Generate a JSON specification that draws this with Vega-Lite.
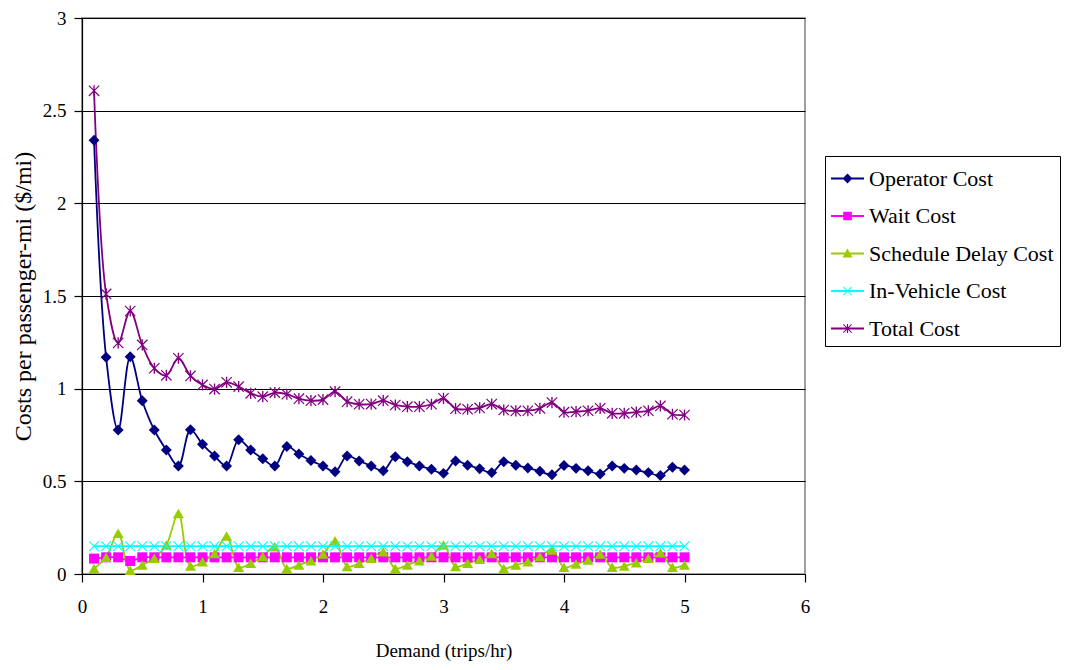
{
  "$schema": "https://vega.github.io/schema/vega-lite/v6.json",
  "width": 723,
  "height": 556,
  "autosize": "none",
  "padding": {"left": 82, "top": 18, "right": 267, "bottom": 96},
  "background": "white",
  "config": {
    "font": "Liberation Serif",
    "view": {"stroke": "#808080", "strokeWidth": 1.5}
  },
  "data": {
    "values": [
      {"d": 0.1, "Operator Cost": 2.34, "Wait Cost": 0.083, "Schedule Delay Cost": 0.03, "In-Vehicle Cost": 0.15, "Total Cost": 2.607},
      {"d": 0.2, "Operator Cost": 1.17, "Wait Cost": 0.09, "Schedule Delay Cost": 0.09, "In-Vehicle Cost": 0.15, "Total Cost": 1.511},
      {"d": 0.3, "Operator Cost": 0.777, "Wait Cost": 0.09, "Schedule Delay Cost": 0.22, "In-Vehicle Cost": 0.15, "Total Cost": 1.247},
      {"d": 0.4, "Operator Cost": 1.172, "Wait Cost": 0.07, "Schedule Delay Cost": 0.02, "In-Vehicle Cost": 0.15, "Total Cost": 1.419},
      {"d": 0.5, "Operator Cost": 0.935, "Wait Cost": 0.09, "Schedule Delay Cost": 0.049, "In-Vehicle Cost": 0.15, "Total Cost": 1.236},
      {"d": 0.6, "Operator Cost": 0.777, "Wait Cost": 0.09, "Schedule Delay Cost": 0.085, "In-Vehicle Cost": 0.15, "Total Cost": 1.11},
      {"d": 0.7, "Operator Cost": 0.669, "Wait Cost": 0.09, "Schedule Delay Cost": 0.156, "In-Vehicle Cost": 0.15, "Total Cost": 1.072},
      {"d": 0.8, "Operator Cost": 0.583, "Wait Cost": 0.09, "Schedule Delay Cost": 0.327, "In-Vehicle Cost": 0.15, "Total Cost": 1.164},
      {"d": 0.9, "Operator Cost": 0.778, "Wait Cost": 0.09, "Schedule Delay Cost": 0.043, "In-Vehicle Cost": 0.15, "Total Cost": 1.069},
      {"d": 1.0, "Operator Cost": 0.70, "Wait Cost": 0.09, "Schedule Delay Cost": 0.066, "In-Vehicle Cost": 0.15, "Total Cost": 1.02},
      {"d": 1.1, "Operator Cost": 0.637, "Wait Cost": 0.09, "Schedule Delay Cost": 0.11, "In-Vehicle Cost": 0.15, "Total Cost": 0.998},
      {"d": 1.2, "Operator Cost": 0.583, "Wait Cost": 0.09, "Schedule Delay Cost": 0.205, "In-Vehicle Cost": 0.15, "Total Cost": 1.034},
      {"d": 1.3, "Operator Cost": 0.724, "Wait Cost": 0.09, "Schedule Delay Cost": 0.036, "In-Vehicle Cost": 0.15, "Total Cost": 1.011},
      {"d": 1.4, "Operator Cost": 0.669, "Wait Cost": 0.09, "Schedule Delay Cost": 0.058, "In-Vehicle Cost": 0.15, "Total Cost": 0.975},
      {"d": 1.5, "Operator Cost": 0.622, "Wait Cost": 0.09, "Schedule Delay Cost": 0.094, "In-Vehicle Cost": 0.15, "Total Cost": 0.957},
      {"d": 1.6, "Operator Cost": 0.583, "Wait Cost": 0.09, "Schedule Delay Cost": 0.147, "In-Vehicle Cost": 0.15, "Total Cost": 0.979},
      {"d": 1.7, "Operator Cost": 0.688, "Wait Cost": 0.09, "Schedule Delay Cost": 0.03, "In-Vehicle Cost": 0.15, "Total Cost": 0.97},
      {"d": 1.8, "Operator Cost": 0.648, "Wait Cost": 0.09, "Schedule Delay Cost": 0.049, "In-Vehicle Cost": 0.15, "Total Cost": 0.946},
      {"d": 1.9, "Operator Cost": 0.612, "Wait Cost": 0.09, "Schedule Delay Cost": 0.072, "In-Vehicle Cost": 0.15, "Total Cost": 0.935},
      {"d": 2.0, "Operator Cost": 0.583, "Wait Cost": 0.09, "Schedule Delay Cost": 0.108, "In-Vehicle Cost": 0.15, "Total Cost": 0.941},
      {"d": 2.1, "Operator Cost": 0.552, "Wait Cost": 0.09, "Schedule Delay Cost": 0.18, "In-Vehicle Cost": 0.15, "Total Cost": 0.984},
      {"d": 2.2, "Operator Cost": 0.637, "Wait Cost": 0.09, "Schedule Delay Cost": 0.04, "In-Vehicle Cost": 0.15, "Total Cost": 0.93},
      {"d": 2.3, "Operator Cost": 0.61, "Wait Cost": 0.09, "Schedule Delay Cost": 0.058, "In-Vehicle Cost": 0.15, "Total Cost": 0.916},
      {"d": 2.4, "Operator Cost": 0.583, "Wait Cost": 0.09, "Schedule Delay Cost": 0.085, "In-Vehicle Cost": 0.15, "Total Cost": 0.917},
      {"d": 2.5, "Operator Cost": 0.557, "Wait Cost": 0.09, "Schedule Delay Cost": 0.12, "In-Vehicle Cost": 0.15, "Total Cost": 0.935},
      {"d": 2.6, "Operator Cost": 0.633, "Wait Cost": 0.09, "Schedule Delay Cost": 0.03, "In-Vehicle Cost": 0.15, "Total Cost": 0.912},
      {"d": 2.7, "Operator Cost": 0.606, "Wait Cost": 0.09, "Schedule Delay Cost": 0.049, "In-Vehicle Cost": 0.15, "Total Cost": 0.903},
      {"d": 2.8, "Operator Cost": 0.583, "Wait Cost": 0.09, "Schedule Delay Cost": 0.072, "In-Vehicle Cost": 0.15, "Total Cost": 0.903},
      {"d": 2.9, "Operator Cost": 0.565, "Wait Cost": 0.09, "Schedule Delay Cost": 0.097, "In-Vehicle Cost": 0.15, "Total Cost": 0.916},
      {"d": 3.0, "Operator Cost": 0.543, "Wait Cost": 0.09, "Schedule Delay Cost": 0.156, "In-Vehicle Cost": 0.15, "Total Cost": 0.948},
      {"d": 3.1, "Operator Cost": 0.61, "Wait Cost": 0.09, "Schedule Delay Cost": 0.04, "In-Vehicle Cost": 0.15, "Total Cost": 0.892},
      {"d": 3.2, "Operator Cost": 0.587, "Wait Cost": 0.09, "Schedule Delay Cost": 0.058, "In-Vehicle Cost": 0.15, "Total Cost": 0.889},
      {"d": 3.3, "Operator Cost": 0.568, "Wait Cost": 0.09, "Schedule Delay Cost": 0.079, "In-Vehicle Cost": 0.15, "Total Cost": 0.896},
      {"d": 3.4, "Operator Cost": 0.547, "Wait Cost": 0.09, "Schedule Delay Cost": 0.11, "In-Vehicle Cost": 0.15, "Total Cost": 0.917},
      {"d": 3.5, "Operator Cost": 0.606, "Wait Cost": 0.09, "Schedule Delay Cost": 0.03, "In-Vehicle Cost": 0.15, "Total Cost": 0.885},
      {"d": 3.6, "Operator Cost": 0.587, "Wait Cost": 0.09, "Schedule Delay Cost": 0.049, "In-Vehicle Cost": 0.15, "Total Cost": 0.88},
      {"d": 3.7, "Operator Cost": 0.572, "Wait Cost": 0.09, "Schedule Delay Cost": 0.066, "In-Vehicle Cost": 0.15, "Total Cost": 0.881},
      {"d": 3.8, "Operator Cost": 0.554, "Wait Cost": 0.09, "Schedule Delay Cost": 0.094, "In-Vehicle Cost": 0.15, "Total Cost": 0.894},
      {"d": 3.9, "Operator Cost": 0.536, "Wait Cost": 0.09, "Schedule Delay Cost": 0.13, "In-Vehicle Cost": 0.15, "Total Cost": 0.925},
      {"d": 4.0, "Operator Cost": 0.585, "Wait Cost": 0.09, "Schedule Delay Cost": 0.036, "In-Vehicle Cost": 0.15, "Total Cost": 0.873},
      {"d": 4.1, "Operator Cost": 0.57, "Wait Cost": 0.09, "Schedule Delay Cost": 0.054, "In-Vehicle Cost": 0.15, "Total Cost": 0.876},
      {"d": 4.2, "Operator Cost": 0.557, "Wait Cost": 0.09, "Schedule Delay Cost": 0.076, "In-Vehicle Cost": 0.15, "Total Cost": 0.881},
      {"d": 4.3, "Operator Cost": 0.54, "Wait Cost": 0.09, "Schedule Delay Cost": 0.108, "In-Vehicle Cost": 0.15, "Total Cost": 0.894},
      {"d": 4.4, "Operator Cost": 0.583, "Wait Cost": 0.09, "Schedule Delay Cost": 0.036, "In-Vehicle Cost": 0.15, "Total Cost": 0.867},
      {"d": 4.5, "Operator Cost": 0.57, "Wait Cost": 0.09, "Schedule Delay Cost": 0.043, "In-Vehicle Cost": 0.15, "Total Cost": 0.867},
      {"d": 4.6, "Operator Cost": 0.561, "Wait Cost": 0.09, "Schedule Delay Cost": 0.061, "In-Vehicle Cost": 0.15, "Total Cost": 0.873},
      {"d": 4.7, "Operator Cost": 0.547, "Wait Cost": 0.09, "Schedule Delay Cost": 0.085, "In-Vehicle Cost": 0.15, "Total Cost": 0.881},
      {"d": 4.8, "Operator Cost": 0.531, "Wait Cost": 0.09, "Schedule Delay Cost": 0.115, "In-Vehicle Cost": 0.15, "Total Cost": 0.907},
      {"d": 4.9, "Operator Cost": 0.576, "Wait Cost": 0.09, "Schedule Delay Cost": 0.036, "In-Vehicle Cost": 0.15, "Total Cost": 0.862},
      {"d": 5.0, "Operator Cost": 0.561, "Wait Cost": 0.09, "Schedule Delay Cost": 0.049, "In-Vehicle Cost": 0.15, "Total Cost": 0.858}
    ]
  },
  "transform": [
    {"fold": ["Operator Cost", "Wait Cost", "Schedule Delay Cost", "In-Vehicle Cost", "Total Cost"], "as": ["series", "value"]}
  ],
  "encoding": {
    "x": {
      "field": "d", "type": "quantitative",
      "scale": {"domain": [0, 6], "nice": false, "zero": false},
      "axis": {
        "title": "Demand (trips/hr)", "values": [0, 1, 2, 3, 4, 5, 6], "grid": false,
        "domainColor": "black", "domainWidth": 1.2, "tickColor": "black", "tickSize": 8, "tickWidth": 1.2,
        "labelFontSize": 19, "labelColor": "black", "labelPadding": 15, "labelFlush": false,
        "titleFontSize": 19, "titleFontWeight": "normal", "titleColor": "black", "titlePadding": 25
      }
    },
    "y": {
      "field": "value", "type": "quantitative",
      "scale": {"domain": [0, 3], "nice": false},
      "axis": {
        "title": "Costs per passenger-mi ($/mi)", "values": [0, 0.5, 1, 1.5, 2, 2.5, 3], "format": "~g",
        "grid": true, "gridColor": "black", "gridWidth": 1,
        "domainColor": "black", "domainWidth": 1.2, "tickColor": "black", "tickSize": 8, "tickWidth": 1.2,
        "labelFontSize": 19, "labelColor": "black", "labelPadding": 8,
        "titleFontSize": 24, "titleFontWeight": "normal", "titleColor": "black", "titlePadding": 7
      }
    },
    "color": {
      "field": "series", "type": "nominal", "sort": null,
      "scale": {
        "domain": ["Operator Cost", "Wait Cost", "Schedule Delay Cost", "In-Vehicle Cost", "Total Cost"],
        "range": ["#000080", "#FF00FF", "#99CC00", "#00FFFF", "#800080"]
      },
      "legend": {
        "orient": "none", "legendX": 743, "legendY": 138, "title": null,
        "symbolSize": 1089, "symbolStrokeWidth": 0, "symbolType": "square",
        "labelFont": "Liberation Serif", "labelFontSize": 22, "labelColor": "black", "labelOffset": 5, "labelLimit": 400,
        "rowPadding": 9.5, "padding": 6, "strokeColor": "black", "fillColor": "white",
        "encode": {
          "symbols": {
            "update": {
              "size": {"value": 1089},
              "strokeWidth": {"value": 0},
              "stroke": {"value": "transparent"},
              "opacity": {"value": 1},
              "fill": {"signal": "datum.value === 'Operator Cost' ? '#000080' : datum.value === 'Wait Cost' ? '#FF00FF' : datum.value === 'Schedule Delay Cost' ? '#99CC00' : datum.value === 'In-Vehicle Cost' ? '#00FFFF' : '#800080'"},
              "shape": {"signal": "datum.value === 'Operator Cost' ? 'M-1,-0.055H1V0.055H-1ZM0,-0.3L0.3,0L0,0.3L-0.3,0Z' : datum.value === 'Wait Cost' ? 'M-1,-0.055H1V0.055H-1ZM-0.26,-0.26H0.26V0.26H-0.26Z' : datum.value === 'Schedule Delay Cost' ? 'M-1,-0.055H1V0.055H-1ZM0,-0.3L0.3,0.24H-0.3Z' : datum.value === 'In-Vehicle Cost' ? 'M-1,-0.055H1V0.055H-1ZM-0.27,-0.23L-0.23,-0.27L0,-0.04L0.23,-0.27L0.27,-0.23L0.04,0L0.27,0.23L0.23,0.27L0,0.04L-0.23,0.27L-0.27,0.23L-0.04,0Z' : 'M-1,-0.055H1V0.055H-1ZM-0.27,-0.23L-0.23,-0.27L0,-0.04L0.23,-0.27L0.27,-0.23L0.04,0L0.27,0.23L0.23,0.27L0,0.04L-0.23,0.27L-0.27,0.23L-0.04,0ZM-0.035,-0.28H0.035V0.28H-0.035Z'"}
            }
          }
        }
      }
    }
  },
  "layer": [
    {
      "mark": {"type": "line", "interpolate": "catmull-rom", "strokeWidth": 1.8}
    },
    {
      "transform": [{"filter": "datum.series === 'Operator Cost'"}],
      "mark": {"type": "point", "filled": true, "opacity": 1, "size": 120, "shape": "diamond"}
    },
    {
      "transform": [{"filter": "datum.series === 'Wait Cost'"}],
      "mark": {"type": "point", "filled": true, "opacity": 1, "size": 100, "shape": "square"}
    },
    {
      "transform": [{"filter": "datum.series === 'Schedule Delay Cost'"}],
      "mark": {"type": "point", "filled": true, "opacity": 1, "size": 120, "shape": "triangle-up"}
    },
    {
      "transform": [{"filter": "datum.series === 'In-Vehicle Cost'"}],
      "mark": {"type": "point", "filled": true, "opacity": 1, "size": 110, "shape": "M-1,-0.85L-0.85,-1L0,-0.15L0.85,-1L1,-0.85L0.15,0L1,0.85L0.85,1L0,0.15L-0.85,1L-1,0.85L-0.15,0Z"}
    },
    {
      "transform": [{"filter": "datum.series === 'Total Cost'"}],
      "mark": {"type": "point", "filled": true, "opacity": 1, "size": 125, "shape": "M-1,-0.85L-0.85,-1L0,-0.15L0.85,-1L1,-0.85L0.15,0L1,0.85L0.85,1L0,0.15L-0.85,1L-1,0.85L-0.15,0ZM-0.12,-1L0.12,-1L0.12,1L-0.12,1Z"}
    }
  ]
}
